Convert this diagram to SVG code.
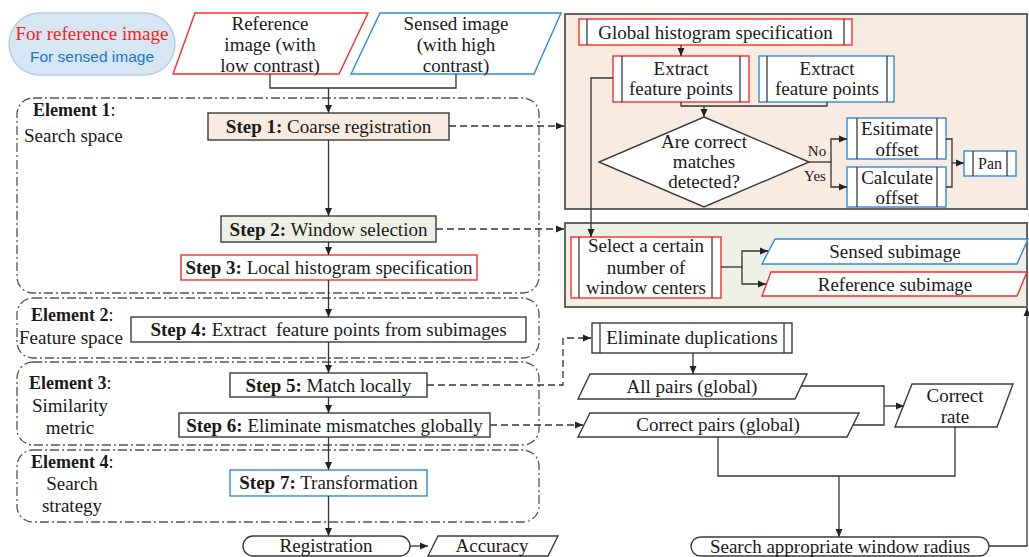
<svg xmlns="http://www.w3.org/2000/svg" width="1029" height="557" viewBox="0 0 1029 557">
<style>
.t{font-family:"Liberation Serif",serif;font-size:19px;fill:#1a1a1a;text-anchor:middle}
.l{text-anchor:start}
.b{font-weight:bold}
.sm{font-size:15px}
.box{fill:#fff;stroke:#3a3a3a;stroke-width:1.4}
.red{stroke:#ff2a2a}
.blue{stroke:#2e8bd6}
.ln{fill:none;stroke:#3a3a3a;stroke-width:1.3}
.conn{fill:none;stroke:#333;stroke-width:1.3}
.dash{stroke-dasharray:7 4}
.elem{fill:none;stroke:#555;stroke-width:1.3;stroke-dasharray:9 3 2 3}
.panel{stroke:#555;stroke-width:1.8}
</style>
<defs>
<marker id="ah" markerUnits="userSpaceOnUse" markerWidth="9" markerHeight="8" refX="8" refY="4" orient="auto">
<path d="M0,0.5 L8,4 L0,7.5 z" fill="#222"/>
</marker>
</defs>

<g id="legend">
<rect x="9" y="13" width="166" height="62" rx="31" fill="#d6e6f3" stroke="#b9cfe3" stroke-width="1.5"/>
<text class="t" x="92" y="40" style="fill:#ff1a1a">For reference image</text>
<text x="92" y="62" style="font-family:'Liberation Sans',sans-serif;font-size:15.5px;fill:#1874c8;text-anchor:middle">For sensed image</text>
</g>

<g id="reference-image">
<polygon class="box red" points="195,13 368,13 339,74 173,74"/>
<text class="t" x="270" y="30">Reference</text>
<text class="t" x="270" y="51">image (with</text>
<text class="t" x="270" y="72">low contrast)</text>
</g>
<g id="sensed-image">
<polygon class="box blue" points="380,13 561,13 534,74 351,74"/>
<text class="t" x="456" y="30">Sensed image</text>
<text class="t" x="456" y="51">(with high</text>
<text class="t" x="456" y="72">contrast)</text>
</g>

<g id="element1"><rect class="elem" x="17" y="98" width="522" height="195" rx="16"/>
<text class="t l" x="33" y="116" style="font-size:18px"><tspan class="b">Element 1</tspan>:</text>
<text class="t l" x="24" y="142">Search space</text></g>
<g id="element2"><rect class="elem" x="17" y="298" width="522" height="60" rx="16"/>
<text class="t l" x="31" y="321" style="font-size:18px"><tspan class="b">Element 2</tspan>:</text>
<text class="t l" x="19" y="344">Feature space</text></g>
<g id="element3"><rect class="elem" x="17" y="362" width="522" height="83" rx="16"/>
<text class="t l" x="29" y="389" style="font-size:18px"><tspan class="b">Element 3</tspan>:</text>
<text class="t" x="70" y="412">Similarity</text>
<text class="t" x="70" y="434">metric</text></g>
<g id="element4"><rect class="elem" x="17" y="450" width="522" height="72" rx="16"/>
<text class="t l" x="31" y="468" style="font-size:18px"><tspan class="b">Element 4</tspan>:</text>
<text class="t" x="72" y="490">Search</text>
<text class="t" x="72" y="512">strategy</text></g>

<g id="step1"><rect class="box" x="208" y="113" width="241" height="27" style="fill:#f8ebe2"/>
<text class="t" x="328.5" y="133"><tspan class="b">Step 1:</tspan> Coarse registration</text></g>
<g id="step2"><rect class="box" x="221" y="216" width="215" height="26" style="fill:#eef0e6"/>
<text class="t" x="328.5" y="235.5"><tspan class="b">Step 2:</tspan> Window selection</text></g>
<g id="step3"><rect class="box red" x="181" y="255" width="296" height="25"/>
<text class="t" x="329" y="274"><tspan class="b">Step 3:</tspan> Local histogram specification</text></g>
<g id="step4"><rect class="box" x="131" y="317" width="395" height="25"/>
<text class="t" x="328.5" y="336"><tspan class="b">Step 4:</tspan> Extract&#160; feature points from subimages</text></g>
<g id="step5"><rect class="box" x="230" y="373" width="197" height="24"/>
<text class="t" x="328.5" y="391.5"><tspan class="b">Step 5:</tspan> Match locally</text></g>
<g id="step6"><rect class="box" x="179" y="413" width="311" height="24"/>
<text class="t" x="334.5" y="431.5"><tspan class="b">Step 6:</tspan> Eliminate mismatches globally</text></g>
<g id="step7"><rect class="box blue" x="230" y="470" width="197" height="26"/>
<text class="t" x="328.5" y="489"><tspan class="b">Step 7:</tspan> Transformation</text></g>

<g id="registration"><rect class="box" x="243" y="536" width="167" height="20" rx="10"/>
<text class="t" x="326" y="552">Registration</text></g>
<g id="accuracy"><polygon class="box" points="438,536 558,536 548,556 428,556"/>
<text class="t" x="492" y="552">Accuracy</text></g>

<g id="coarse-panel">
<rect class="panel" x="565" y="14" width="462" height="195" fill="#f8ebe2"/>
</g>
<g id="global-hist"><rect class="box red" x="579" y="19" width="273" height="26"/>
<path class="ln red" d="M587,19 V45 M844,19 V45"/>
<text class="t" x="715.5" y="38.5">Global histogram specification</text></g>
<g id="extract-ref"><rect class="box red" x="613" y="56" width="136" height="46"/>
<path class="ln red" d="M622,56 V102 M740,56 V102"/>
<text class="t" x="681" y="75">Extract</text>
<text class="t" x="681" y="95">feature points</text></g>
<g id="extract-sen"><rect class="box blue" x="759" y="56" width="135" height="46"/>
<path class="ln blue" d="M767,56 V102 M887,56 V102"/>
<text class="t" x="827" y="75">Extract</text>
<text class="t" x="827" y="95">feature points</text></g>
<g id="decision"><polygon class="box" points="704,117 809,162 704,207 599,162"/>
<text class="t" x="704" y="148">Are correct</text>
<text class="t" x="704" y="168">matches</text>
<text class="t" x="704" y="188">detected?</text></g>
<g id="estimate"><rect class="box blue" x="847" y="118" width="99" height="41"/>
<path class="ln blue" d="M857,118 V159 M937,118 V159"/>
<text class="t" x="897" y="135">Esitimate</text>
<text class="t" x="897" y="156">offset</text></g>
<g id="calculate"><rect class="box blue" x="847" y="167" width="99" height="40"/>
<path class="ln blue" d="M857,167 V207 M937,167 V207"/>
<text class="t" x="897" y="184">Calculate</text>
<text class="t" x="897" y="204">offset</text></g>
<g id="pan"><rect class="box blue" x="964" y="151" width="52" height="25"/>
<path class="ln blue" d="M973,151 V176 M1007,151 V176"/>
<text class="t" x="990" y="168.5" style="font-size:16px">Pan</text></g>

<g id="window-panel"><rect class="panel" x="565" y="223" width="462" height="84" fill="#eef0e6"/></g>
<g id="select-centers"><rect class="box red" x="571" y="237" width="150" height="61"/>
<path class="ln red" d="M579,237 V298 M712,237 V298"/>
<text class="t" x="646" y="252">Select a certain</text>
<text class="t" x="646" y="274">number of</text>
<text class="t" x="646" y="294">window centers</text></g>
<g id="sensed-sub"><polygon class="box blue" points="775,239 1028,239 1017,264 762,264"/>
<text class="t" x="895" y="258">Sensed subimage</text></g>
<g id="reference-sub"><polygon class="box red" points="771,272 1027,272 1017,296 762,296"/>
<text class="t" x="895" y="291">Reference subimage</text></g>

<g id="elim-dup"><rect class="box" x="592" y="323" width="200" height="30"/>
<path class="ln" d="M600,323 V353 M784,323 V353"/>
<text class="t" x="692" y="344">Eliminate duplications</text></g>
<g id="all-pairs"><polygon class="box" points="590,374 807,374 795,399 578,399"/>
<text class="t" x="692" y="393">All pairs (global)</text></g>
<g id="correct-pairs"><polygon class="box" points="590,413 859,413 847,437 578,437"/>
<text class="t" x="718" y="431">Correct pairs (global)</text></g>
<g id="correct-rate"><polygon class="box" points="912,384 1013,384 997,427 895,427"/>
<text class="t" x="955" y="402">Correct</text>
<text class="t" x="955" y="423">rate</text></g>
<g id="search-radius"><rect class="box" x="691" y="537" width="298" height="19" rx="9.5"/>
<text class="t" x="840" y="552.5">Search appropriate window radius</text></g>

<g id="connectors">
<path class="conn" d="M270,74 V88 H456 V74"/>
<path class="conn" d="M328.5,88 V113" marker-end="url(#ah)"/>
<path class="conn" d="M328.5,140 V216" marker-end="url(#ah)"/>
<path class="conn" d="M328.5,242 V255" marker-end="url(#ah)"/>
<path class="conn" d="M328.5,280 V317" marker-end="url(#ah)"/>
<path class="conn" d="M328.5,342 V373" marker-end="url(#ah)"/>
<path class="conn" d="M328.5,397 V413" marker-end="url(#ah)"/>
<path class="conn" d="M328.5,437 V470" marker-end="url(#ah)"/>
<path class="conn" d="M328.5,496 V536" marker-end="url(#ah)"/>
<path class="conn" d="M410,546 H428" marker-end="url(#ah)"/>
<path class="conn dash" d="M449,126 H564" marker-end="url(#ah)"/>
<path class="conn dash" d="M436,229 H564" marker-end="url(#ah)"/>
<path class="conn dash" d="M427,385 H563 V338 H591" marker-end="url(#ah)"/>
<path class="conn dash" d="M490,425 H583" marker-end="url(#ah)"/>
<path class="conn" d="M681,45 V56" marker-end="url(#ah)"/>
<path class="conn" d="M681,102 V106 H827 V102"/>
<path class="conn" d="M704,106 V117" marker-end="url(#ah)"/>
<path class="conn" d="M613,78 H591 V237" marker-end="url(#ah)"/>
<path class="conn" d="M809,162 H831"/>
<path class="conn" d="M831,162 V139 H847" marker-end="url(#ah)"/>
<path class="conn" d="M831,162 V187 H847" marker-end="url(#ah)"/>
<path class="conn" d="M946,139 H952 V187 H946"/>
<path class="conn" d="M952,163 H964" marker-end="url(#ah)"/>
<text class="t sm" x="817" y="156">No</text>
<text class="t sm" x="815" y="181">Yes</text>
<path class="conn" d="M721,267 H742"/>
<path class="conn" d="M742,267 V251 H768" marker-end="url(#ah)"/>
<path class="conn" d="M742,267 V284 H766" marker-end="url(#ah)"/>
<path class="conn" d="M693,353 V374" marker-end="url(#ah)"/>
<path class="conn" d="M801,386 H884 V425 H853"/>
<path class="conn" d="M884,406 H904" marker-end="url(#ah)"/>
<path class="conn" d="M718,437 V476 H955 V427"/>
<path class="conn" d="M839,476 V537" marker-end="url(#ah)"/>
<path class="conn" d="M989,546 H1027 V308" marker-end="url(#ah)"/>
</g>
</svg>
